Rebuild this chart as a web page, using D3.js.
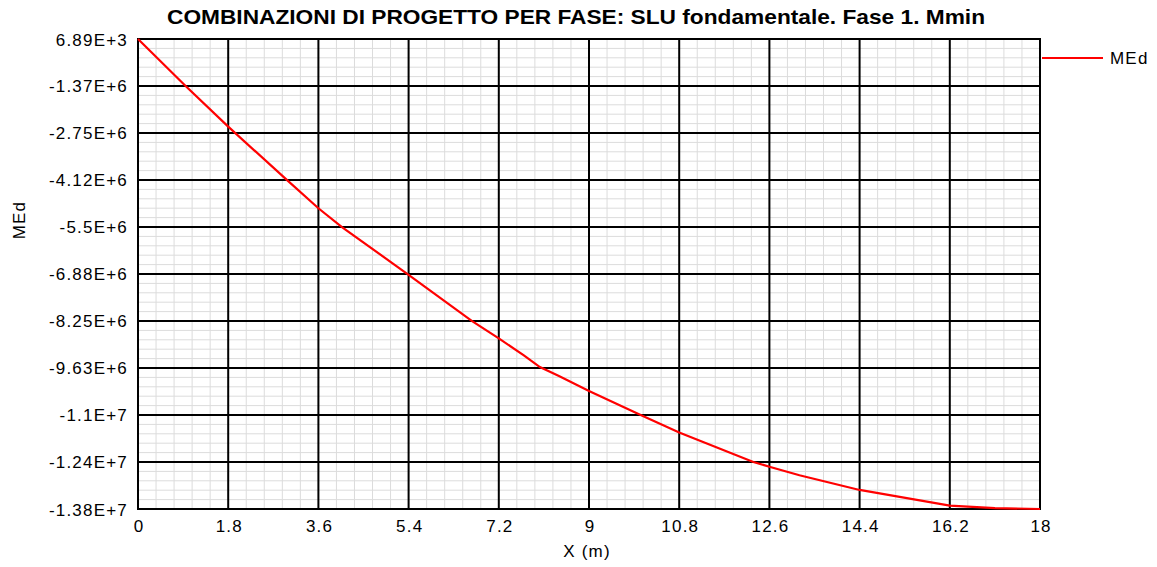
<!DOCTYPE html>
<html><head><meta charset="utf-8">
<script src="https://cdn.jsdelivr.net/npm/d3@7"></script>
<style>body{margin:0;background:#fff}svg{display:block;font-family:"Liberation Sans",Arial,sans-serif}</style>
</head><body><svg id="c" width="1157" height="567"></svg>
<script>
const titleText = "COMBINAZIONI DI PROGETTO PER FASE: SLU fondamentale. Fase 1. Mmin";
const xValues = [0, 0.95, 1.8, 2.97, 3.6, 4.07, 5.4, 6.66, 7.2, 7.7, 8.02, 8.4, 9.0, 10.02, 10.8, 12.28, 12.6, 13.2, 14.4, 16.2, 17.1, 18];
const medValues = [6890, -1.37e6, -2.56e6, -4.12e6, -4.95e6, -5.5e6, -6.9e6, -8.25e6, -8.76e6, -9.26e6, -9.6e6, -9.86e6, -10.3e6, -11.0e6, -11.52e6, -12.38e6, -12.52e6, -12.77e6, -13.2e6, -13.66e6, -13.73e6, -13.758e6];
const xTicks = [0, 1.8, 3.6, 5.4, 7.2, 9, 10.8, 12.6, 14.4, 16.2, 18];
const yTickValues = [6890, -1.3696e6, -2.7461e6, -4.1226e6, -5.4991e6, -6.8756e6, -8.2521e6, -9.6286e6, -1.10051e7, -1.23816e7, -1.37581e7];
const yTickLabels = ["6.89E+3", "-1.37E+6", "-2.75E+6", "-4.12E+6", "-5.5E+6", "-6.88E+6", "-8.25E+6", "-9.63E+6", "-1.1E+7", "-1.24E+7", "-1.38E+7"];
const seriesName = "MEd";

const svg = d3.select("#c");
const L = 138, R = 1040, T = 39, B = 509;
const FS = 17, LS = 1.2;
const x = d3.scaleLinear().domain([0, 18]).range([L, R]);
const y = d3.scaleLinear().domain([yTickValues[0], yTickValues[yTickValues.length - 1]]).range([T, B]);

// minor grid
const g = svg.append("g");
const minorX = [];
for (let i = 0; i < xTicks.length - 1; i++) for (let k = 1; k < 5; k++) minorX.push(xTicks[i] + (xTicks[i + 1] - xTicks[i]) * k / 5);
const minorY = [];
for (let i = 0; i < yTickValues.length - 1; i++) for (let k = 1; k < 5; k++) minorY.push(yTickValues[i] + (yTickValues[i + 1] - yTickValues[i]) * k / 5);
g.selectAll(".mx").data(minorX).join("line").attr("x1", d => x(d)).attr("x2", d => x(d)).attr("y1", T).attr("y2", B).attr("stroke", "#dcdcdc").attr("stroke-width", 1);
g.selectAll(".my").data(minorY).join("line").attr("y1", d => y(d)).attr("y2", d => y(d)).attr("x1", L).attr("x2", R).attr("stroke", "#dcdcdc").attr("stroke-width", 1);
// major grid
g.selectAll(".Mx").data(xTicks).join("line").attr("x1", d => x(d)).attr("x2", d => x(d)).attr("y1", T).attr("y2", B).attr("stroke", "#000").attr("stroke-width", 2);
g.selectAll(".My").data(yTickValues).join("line").attr("y1", d => y(d)).attr("y2", d => y(d)).attr("x1", L).attr("x2", R).attr("stroke", "#000").attr("stroke-width", 2);
svg.append("rect").attr("x", L).attr("y", T).attr("width", R - L).attr("height", B - T).attr("fill", "none").attr("stroke", "#000").attr("stroke-width", 2);

// axes labels
const xa = svg.append("g").attr("transform", `translate(0,${B})`).call(d3.axisBottom(x).tickValues(xTicks).tickSize(0).tickPadding(0).tickFormat(d => String(d)));
xa.select(".domain").remove();
xa.selectAll("text").attr("font-size", FS).attr("letter-spacing", LS).attr("fill", "#000").attr("font-family", "Liberation Sans, Arial, sans-serif").attr("dy", null).attr("y", 23).attr("dx", LS / 2);
const ya = svg.append("g").attr("transform", `translate(${L},0)`).call(d3.axisLeft(y).tickValues(yTickValues).tickSize(0).tickPadding(0).tickFormat((d, i) => yTickLabels[i]));
ya.select(".domain").remove();
ya.selectAll("text").attr("font-size", FS).attr("letter-spacing", LS).attr("fill", "#000").attr("font-family", "Liberation Sans, Arial, sans-serif").attr("dy", null).attr("y", 6).attr("x", -10);

// line
svg.append("path").datum(xValues.map((v, i) => [v, medValues[i]]))
  .attr("d", d3.line().x(d => x(d[0])).y(d => y(d[1])))
  .attr("fill", "none").attr("stroke", "#ff0000").attr("stroke-width", 2.2);

// title
svg.append("text").attr("x", 167).attr("y", 24).attr("font-size", 21).attr("font-weight", "bold")
  .attr("textLength", 818).attr("lengthAdjust", "spacingAndGlyphs").text(titleText);
// axis titles
svg.append("text").attr("x", 587).attr("y", 557).attr("text-anchor", "middle").attr("font-size", FS).attr("letter-spacing", LS).text("X (m)");
svg.append("text").attr("transform", "translate(25,220) rotate(-90)").attr("text-anchor", "middle").attr("font-size", FS).attr("letter-spacing", LS).text(seriesName);
// legend
svg.append("line").attr("x1", 1042).attr("x2", 1103).attr("y1", 58).attr("y2", 58).attr("stroke", "#ff0000").attr("stroke-width", 2);
svg.append("text").attr("x", 1110).attr("y", 64).attr("font-size", FS).attr("letter-spacing", LS).text(seriesName);
</script></body></html>
